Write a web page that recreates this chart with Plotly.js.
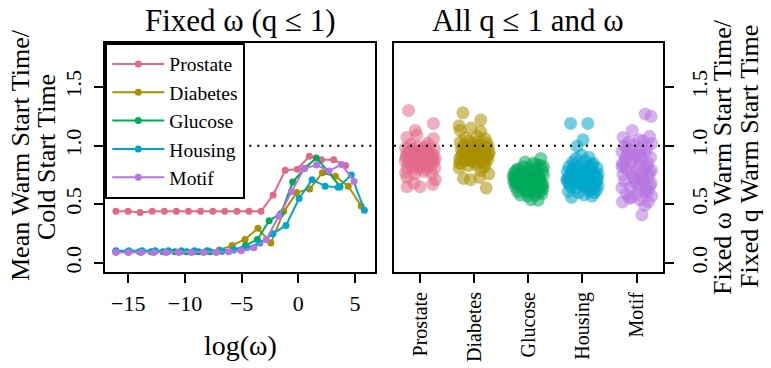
<!DOCTYPE html>
<html><head><meta charset="utf-8">
<script src="https://cdn.plot.ly/plotly-3.0.1.min.js"></script>
<style>html,body{margin:0;padding:0;background:#fff}#chart{width:771px;height:368px}</style>
</head><body><div id="chart"></div>
<script>
// ---------- data ----------
const datasets = ["Prostate", "Diabetes", "Glucose", "Housing", "Motif"];
const colors = ["#E16A86", "#AA9000", "#00AA5A", "#00A6CA", "#B675E0"];

// Left panel: log(omega) grid and mean warm/cold ratio per dataset
const prostateLogW = [-16.09,-15.02,-13.96,-12.89,-11.82,-10.76,-9.69,-8.62,-7.55,-6.49,-5.42,-4.35,-3.29,-2.22,-1.15,-0.09,0.98,2.05,3.12,4.18];
const prostateRatio = [0.44,0.44,0.43,0.44,0.44,0.44,0.44,0.44,0.44,0.44,0.44,0.44,0.44,0.58,0.79,0.80,0.91,0.88,0.88,0.83];
const diabetesLogW = [-16.09,-14.95,-13.81,-12.67,-11.53,-10.40,-9.26,-8.12,-6.98,-5.84,-4.70,-3.56,-2.42,-1.28,-0.14,1.00,2.13,3.27,4.41,5.55];
const diabetesRatio = [0.095,0.095,0.095,0.095,0.095,0.095,0.095,0.10,0.11,0.15,0.20,0.295,0.17,0.44,0.60,0.63,0.77,0.74,0.655,0.485];
const glucoseLogW = [-16.09,-15.05,-14.01,-12.97,-11.93,-10.89,-9.85,-8.81,-7.77,-6.73,-5.69,-4.65,-3.61,-2.57,-1.53,-0.49,0.55,1.59,2.63,3.68];
const glucoseRatio = [0.095,0.095,0.095,0.095,0.095,0.095,0.095,0.095,0.095,0.10,0.11,0.15,0.20,0.36,0.42,0.69,0.805,0.895,0.78,0.65];
const housingLogW = [-16.09,-14.94,-13.78,-12.63,-11.47,-10.32,-9.17,-8.01,-6.86,-5.70,-4.55,-3.40,-2.24,-1.09,0.07,1.22,2.37,3.53,4.68,5.83];
const housingRatio = [0.105,0.105,0.105,0.105,0.105,0.105,0.105,0.105,0.105,0.115,0.13,0.17,0.25,0.32,0.55,0.71,0.655,0.645,0.75,0.45];
const motifLogW = [-16.09,-14.98,-13.88,-12.77,-11.67,-10.56,-9.45,-8.35,-7.24,-6.14,-5.03,-3.92,-2.82,-1.71,-0.61,0.50,1.61,2.71,3.82,4.92];
const motifRatio = [0.09,0.09,0.09,0.09,0.09,0.09,0.09,0.09,0.09,0.095,0.105,0.13,0.20,0.40,0.61,0.805,0.835,0.785,0.84,0.695];

// Right panel: jitter offsets from each category position, and ratio values
const prostateJit = [-0.215,0.245,-0.09,-0.245,-0.06,0.245,-0.27,-0.20,-0.13,-0.05,0.03,0.10,0.18,0.26,-0.25,-0.17,-0.09,0.00,0.08,0.16,0.24,-0.28,-0.21,-0.12,-0.03,0.05,0.13,0.21,0.28,-0.24,-0.15,-0.07,0.02,0.11,0.19,0.27,-0.27,-0.10,0.07,0.22,-0.245,0.28,-0.245,0.00,0.23,-0.12,-0.18,0.14,-0.02,0.06,
  -0.23,-0.16,-0.08,0.00,0.08,0.16,0.23,-0.19,-0.11,-0.03,0.05,0.13,0.20,-0.26,-0.14,0.01,0.12,0.25,-0.06,0.09];
const prostateVal = [1.30,1.19,1.13,1.07,1.09,1.06,0.98,0.95,0.97,0.99,0.96,0.98,0.95,0.97,0.92,0.90,0.93,0.91,0.93,0.90,0.92,0.87,0.85,0.88,0.86,0.88,0.85,0.87,0.89,0.81,0.83,0.80,0.82,0.80,0.83,0.81,0.77,0.76,0.78,0.76,0.73,0.71,0.65,0.65,0.67,0.68,1.01,1.02,0.94,0.84,
  0.94,0.96,0.91,0.95,0.90,0.94,0.89,0.88,0.90,0.92,0.87,0.91,0.85,0.90,0.86,0.84,0.96,0.86,0.82,0.99];
const diabetesJit = [-0.21,0.12,-0.28,-0.06,-0.26,0.12,-0.17,0.05,0.20,-0.26,-0.18,-0.10,-0.02,0.07,0.15,0.24,-0.24,-0.15,-0.07,0.01,0.09,0.17,0.26,-0.22,-0.13,-0.04,0.04,0.13,0.21,0.28,-0.27,-0.18,-0.09,0.00,0.08,0.17,0.25,-0.25,-0.11,0.03,0.19,-0.20,-0.07,0.10,0.27,0.22,-0.28,0.12,-0.15,0.07,
  0.22,-0.19,0.06,-0.12,0.18,-0.02,0.26,-0.24,0.10,-0.08,0.15,-0.16,0.02,0.24,-0.27,0.11,-0.05,0.20,-0.21,0.13];
const diabetesVal = [1.28,1.22,1.17,1.15,1.13,1.12,1.07,1.08,1.06,1.03,1.01,1.04,1.02,1.03,1.00,1.02,0.97,0.98,0.96,0.99,0.97,0.95,0.98,0.93,0.92,0.94,0.91,0.93,0.90,0.94,0.89,0.87,0.88,0.86,0.88,0.86,0.88,0.85,0.83,0.84,0.82,0.72,0.71,0.73,0.76,0.64,0.81,0.79,0.95,1.00,
  0.99,0.95,0.97,0.93,0.95,0.99,0.92,0.91,0.90,0.89,0.96,0.89,0.97,0.91,0.85,0.97,0.87,0.84,0.99,0.92];
const glucoseJit = [0.23,0.15,-0.20,-0.10,0.00,0.10,0.22,-0.26,-0.16,-0.06,0.05,0.16,0.26,-0.23,-0.13,-0.03,0.08,0.19,0.28,-0.27,-0.18,-0.08,0.02,0.12,0.22,-0.24,-0.14,-0.04,0.07,0.17,0.27,-0.20,-0.10,0.00,0.11,0.21,-0.15,-0.02,0.13,0.25,0.05,0.18,-0.28,0.27,-0.22,0.09,-0.06,0.28,-0.12,0.15,
  -0.25,0.20,-0.11,0.04,-0.19,0.14,-0.03,0.25,-0.15,0.09,-0.07,0.18,-0.22,0.01,0.12,-0.17,0.23,-0.09,0.06,-0.26];
const glucoseVal = [0.89,0.84,0.80,0.82,0.81,0.80,0.83,0.77,0.78,0.76,0.78,0.77,0.79,0.73,0.74,0.72,0.74,0.72,0.75,0.69,0.70,0.68,0.70,0.69,0.71,0.65,0.66,0.64,0.66,0.65,0.67,0.61,0.62,0.60,0.62,0.61,0.58,0.57,0.58,0.59,0.54,0.535,0.74,0.63,0.79,0.85,0.86,0.82,0.71,0.68,
  0.70,0.73,0.67,0.72,0.75,0.70,0.74,0.66,0.76,0.69,0.64,0.71,0.68,0.62,0.72,0.75,0.65,0.77,0.63,0.73];
const housingJit = [-0.22,0.10,0.01,-0.10,-0.12,0.05,0.20,-0.25,-0.15,-0.04,0.07,0.17,0.27,-0.28,-0.18,-0.08,0.03,0.13,0.23,-0.24,-0.13,-0.03,0.08,0.18,0.28,-0.27,-0.17,-0.06,0.04,0.14,0.24,-0.22,-0.11,0.00,0.10,0.20,0.29,-0.26,-0.08,0.12,0.26,-0.20,0.03,0.18,-0.29,0.29,-0.02,-0.18,0.12,0.22,
  0.21,-0.16,0.08,-0.24,0.15,-0.05,0.26,-0.12,0.02,-0.20,0.11,-0.09,0.19,-0.27,0.06,-0.14,0.24,-0.01,0.16,-0.23];
const housingVal = [1.19,1.19,1.05,0.995,0.89,0.87,0.85,0.82,0.84,0.83,0.82,0.84,0.81,0.78,0.79,0.77,0.79,0.78,0.76,0.74,0.73,0.75,0.73,0.74,0.72,0.69,0.70,0.68,0.70,0.69,0.68,0.65,0.64,0.66,0.64,0.65,0.66,0.61,0.60,0.61,0.62,0.56,0.58,0.57,0.71,0.76,0.92,0.86,0.90,0.60,
  0.75,0.72,0.77,0.71,0.67,0.80,0.70,0.74,0.66,0.79,0.71,0.76,0.63,0.72,0.78,0.68,0.74,0.70,0.81,0.67];
const motifJit = [0.16,0.27,-0.08,-0.25,0.24,0.05,-0.15,0.12,-0.22,-0.05,0.20,0.28,-0.27,-0.12,0.03,0.17,-0.20,-0.03,0.10,0.26,-0.26,-0.10,0.06,0.21,-0.18,-0.01,0.14,0.28,-0.25,-0.07,0.09,0.23,-0.22,-0.04,0.12,0.27,-0.27,-0.11,0.05,0.19,-0.19,0.00,0.16,0.28,-0.26,0.22,0.10,-0.13,0.06,0.15,
  -0.16,0.19,-0.02,0.25,-0.21,0.08,-0.09,0.22,-0.24,0.13,-0.14,0.02,0.24,-0.06,0.17,-0.19,0.11,-0.27,0.07,-0.10];
const motifVal = [1.27,1.25,1.13,1.07,1.08,1.05,1.03,1.04,1.00,1.01,0.99,1.02,0.95,0.96,0.94,0.95,0.90,0.91,0.89,0.90,0.85,0.86,0.84,0.85,0.80,0.79,0.81,0.79,0.75,0.74,0.76,0.74,0.70,0.69,0.70,0.68,0.64,0.65,0.63,0.64,0.59,0.58,0.60,0.57,0.52,0.52,0.41,0.55,0.54,0.49,
  0.92,0.82,0.72,0.66,0.88,0.97,0.77,0.61,0.83,0.71,0.93,0.67,0.78,0.87,0.62,0.98,0.73,0.82,0.91,0.56];

const referenceLevel = 1;
const yTickVals = [0, 0.5, 1, 1.5];
const yTickText = ["0.0", "0.5", "1.0", "1.5"];
const xTickVals = [-15, -10, -5, 0, 5];

// ---------- build ----------
const lineX = [prostateLogW, diabetesLogW, glucoseLogW, housingLogW, motifLogW];
const lineY = [prostateRatio, diabetesRatio, glucoseRatio, housingRatio, motifRatio];
const jitX = [prostateJit, diabetesJit, glucoseJit, housingJit, motifJit];
const jitY = [prostateVal, diabetesVal, glucoseVal, housingVal, motifVal];

const W = 771, H = 368;
const FONT = "Liberation Serif, Times New Roman, serif";
const fx = p => p / W, fy = p => 1 - p / H;

const traces = [];
datasets.forEach((name, i) => {
  traces.push({
    type: "scatter", mode: "lines+markers", name: name,
    x: lineX[i], y: lineY[i], xaxis: "x", yaxis: "y",
    line: {color: colors[i], width: 2},
    marker: {color: colors[i], size: 7}
  });
});
datasets.forEach((name, i) => {
  traces.push({
    type: "scatter", mode: "markers", name: name, showlegend: false,
    x: jitX[i].map(d => d + i + 1), y: jitY[i], xaxis: "x2", yaxis: "y2",
    marker: {color: colors[i], size: 13, opacity: 0.55, line: {width: 0}}
  });
});

const yRange = [-0.077, 1.878];
const tickFont = {family: FONT, size: 22, color: "#000"};
const baseAxis = {
  showline: true, linecolor: "#000", linewidth: 2, mirror: true,
  showgrid: false, zeroline: false, ticks: "outside", ticklen: 9, tickwidth: 2,
  tickcolor: "#000", tickfont: tickFont, fixedrange: true
};
const yDomain = [fy(272), fy(42.7)];
const titleFont = {family: FONT, size: 31, color: "#000"};
const labFont = {family: FONT, size: 26, color: "#000"};

const layout = {
  width: W, height: H, margin: {l: 0, r: 0, t: 0, b: 0},
  paper_bgcolor: "#fff", plot_bgcolor: "#fff",
  font: {family: FONT, color: "#000"},
  showlegend: true,
  legend: {
    x: fx(105.3), y: fy(42.7), xanchor: "left", yanchor: "top",
    bgcolor: "#fff", bordercolor: "#000", borderwidth: 2,
    font: {family: FONT, size: 19.5, color: "#000"}, itemwidth: 52
  },
  xaxis: Object.assign({}, baseAxis, {domain: [fx(105.3), fx(375)], range: [-17.03, 6.77],
    tickvals: xTickVals, anchor: "y", ticklabelstandoff: 2}),
  yaxis: Object.assign({}, baseAxis, {domain: yDomain, range: yRange, anchor: "x",
    tickvals: yTickVals, ticktext: yTickText, tickangle: -90, ticklabelstandoff: 5}),
  xaxis2: Object.assign({}, baseAxis, {domain: [fx(394), fx(662.7)], range: [0.516, 5.484],
    tickvals: [1, 2, 3, 4, 5], ticktext: datasets, tickangle: -90, anchor: "y2", ticklabelstandoff: 1,
    tickfont: {family: FONT, size: 20, color: "#000"}}),
  yaxis2: Object.assign({}, baseAxis, {domain: yDomain, range: yRange, anchor: "x2", side: "right",
    tickvals: yTickVals, ticktext: yTickText, tickangle: -90, ticklabelstandoff: 7}),
  shapes: [
    {type: "line", xref: "x domain", yref: "y", x0: 0, x1: 1, y0: referenceLevel, y1: referenceLevel,
     line: {color: "#000", width: 2, dash: "2px,6px"}, layer: "above"},
    {type: "line", xref: "x2 domain", yref: "y2", x0: 0, x1: 1, y0: referenceLevel, y1: referenceLevel,
     line: {color: "#000", width: 2, dash: "2px,6px"}, layer: "above"}
  ],
  annotations: [
    {text: "Fixed ω (q ≤ 1)", xref: "paper", yref: "paper", x: fx(240), y: fy(20), showarrow: false,
     xanchor: "center", yanchor: "middle", font: titleFont},
    {text: "All q ≤ 1 and ω", xref: "paper", yref: "paper", x: fx(528), y: fy(20), showarrow: false,
     xanchor: "center", yanchor: "middle", font: titleFont},
    {text: "log(ω)", xref: "paper", yref: "paper", x: fx(240), y: fy(345), showarrow: false,
     xanchor: "center", yanchor: "middle", font: {family: FONT, size: 28, color: "#000"}},
    {text: "Mean Warm Start Time/", xref: "paper", yref: "paper", x: fx(20), y: fy(155),
     showarrow: false, textangle: -90, xanchor: "center", yanchor: "middle", font: labFont},
    {text: "Cold Start Time", xref: "paper", yref: "paper", x: fx(47), y: fy(157),
     showarrow: false, textangle: -90, xanchor: "center", yanchor: "middle", font: labFont},
    {text: "Fixed ω Warm Start Time/", xref: "paper", yref: "paper", x: fx(723), y: fy(157),
     showarrow: false, textangle: -90, xanchor: "center", yanchor: "middle", font: labFont},
    {text: "Fixed q Warm Start Time", xref: "paper", yref: "paper", x: fx(750), y: fy(157),
     showarrow: false, textangle: -90, xanchor: "center", yanchor: "middle", font: labFont}
  ]
};

Plotly.newPlot("chart", traces, layout, {displayModeBar: false, staticPlot: true});
</script>
</body></html>
